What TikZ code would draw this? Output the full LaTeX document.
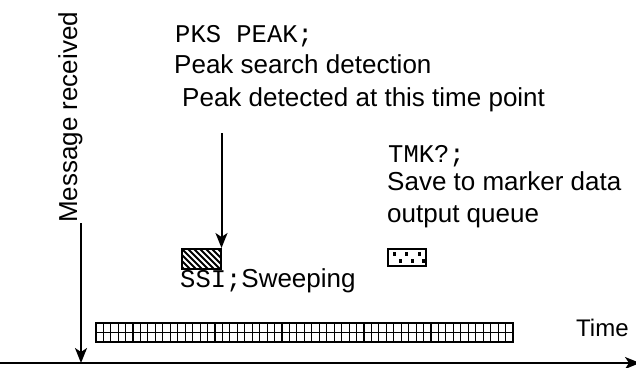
\documentclass[tikz,border=0pt]{standalone}
\usepackage{fontspec}
\setmainfont{Liberation Sans}
\setmonofont{Liberation Mono}
\usetikzlibrary{arrows.meta}

\tikzset{
  lbl/.style={inner sep=0pt, anchor=base west, font=\fontsize{26}{30}\selectfont},
  code/.style={inner sep=0pt, anchor=base west, font=\fontsize{25.5}{30}\selectfont\ttfamily},
  arr/.style={line width=2pt, -{Stealth[length=15pt, width=12pt, inset=4pt]}},
  box/.style={draw, line width=1.5pt, inner sep=0pt, anchor=north west}
}

\begin{document}
\begin{tikzpicture}[x=1pt, y=-1pt]
\useasboundingbox (0,0) rectangle (636,367);

% axis and message arrow
\coordinate (axstart) at (0,363);
\coordinate (axend) at (640,363);
\draw[arr] (axstart) -- (axend);
\node[lbl, rotate=90] (msg) at (77,223) {Message received};
\coordinate (msgfoot) at (81,223);
\coordinate (msgtip) at (81,363);
\draw[arr] (msgfoot) -- (msgtip);
\node[lbl, font=\fontsize{24}{28}\selectfont] (time) at (576,336) {Time};

% peak search texts
\node[code] (pks) at (175,42) {PKS PEAK;};
\node[lbl] (pksdesc) at (174,73) {Peak search detection};
\node[lbl] (peakdet) at (182,106) {Peak detected at this time point};

% sweep box (hatched)
\node[box, minimum width=39pt, minimum height=20pt,
  path picture={
    \begin{scope}[line width=2pt]
      \foreach \i in {-6,...,8}
        \draw ([xshift=\i*6pt]path picture bounding box.north west) -- ++(22pt,-22pt);
    \end{scope}
  }] (sweepbox) at (181,248) {};
\coordinate (peaktop) at (sweepbox.north east |- 0,133);
\draw[arr] (peaktop) -- (sweepbox.north east);
\node[lbl] (ssi) at (180,287) {\fontsize{25.5}{30}\selectfont\ttfamily SSI;\fontsize{26}{30}\selectfont\rmfamily Sweeping};

% marker query texts
\node[code] (tmk) at (388,162) {TMK?;};
\node[lbl] (save1) at (387,190) {Save to marker data};
\node[lbl] (save2) at (387,222) {output queue};

% marker box (dotted)
\node[box, minimum width=38pt, minimum height=17pt,
  path picture={
    \foreach \dx/\dy in {5/3.5,17/3.5,30/3.5, 11/10.5,23/10.5,34/10.5}
      \fill ([xshift=\dx pt, yshift=-\dy pt]path picture bounding box.north west) rectangle ++(3.5pt,-3.5pt);
  }] (markbox) at (387,248) {};

% sweep timeline (grid)
\node[box, minimum width=417pt, minimum height=19pt,
  path picture={
    \begin{scope}[line width=1.1pt]
      \draw ([yshift=-9.5pt]path picture bounding box.north west) -- ([yshift=-9.5pt]path picture bounding box.north east);
      \foreach \i in {1,...,55}
        \draw ([xshift=\i*7.45pt]path picture bounding box.north west) -- ([xshift=\i*7.45pt]path picture bounding box.south west);
    \end{scope}
  }] (sweepbar) at (95,322) {};

\end{tikzpicture}
\end{document}
